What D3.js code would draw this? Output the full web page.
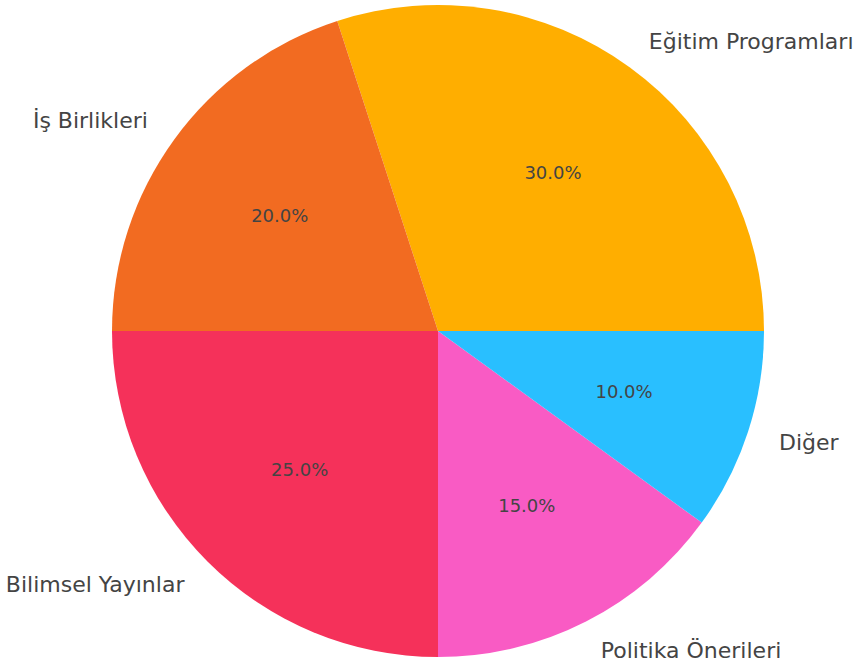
<!DOCTYPE html>
<html>
<head>
<meta charset="utf-8">
<script src="https://cdn.jsdelivr.net/npm/d3@7"></script>
<style>
  body { margin: 0; background: #fff; }
  svg { display: block; font-family: "DejaVu Sans", sans-serif; }
</style>
</head>
<body>
<div id="chart"></div>
<script>
// Slice data, in drawing order (counterclockwise from 3 o'clock)
const categories = ['Eğitim Programları', 'İş Birlikleri', 'Bilimsel Yayınlar', 'Politika Önerileri', 'Diğer'];
const values = [30, 20, 25, 15, 10];
const colors = ['#FFAE00', '#F26B21', '#F5315A', '#F95BC4', '#29BFFF'];

const width = 857, height = 665;
const cx = 438, cy = 331, radius = 326;

const svg = d3.select('#chart').append('svg')
    .attr('width', width)
    .attr('height', height);

const g = svg.append('g').attr('transform', `translate(${cx},${cy})`);

const data = categories.map((c, i) => ({ name: c, value: values[i], color: colors[i] }));
const total = d3.sum(values);

// matplotlib-style: start at 3 o'clock, go counterclockwise
const pie = d3.pie().value(d => d.value).sort(null)
    .startAngle(Math.PI / 2)
    .endAngle(Math.PI / 2 - 2 * Math.PI);

const arc = d3.arc().innerRadius(0).outerRadius(radius);
const pctArc = d3.arc().innerRadius(radius * 0.6).outerRadius(radius * 0.6);
const labelArc = d3.arc().innerRadius(radius * 1.1).outerRadius(radius * 1.1);

const arcs = pie(data);

g.selectAll('path.slice')
    .data(arcs)
    .enter().append('path')
    .attr('class', 'slice')
    .attr('d', arc)
    .attr('fill', d => d.data.color);

// percentages inside
g.selectAll('text.pct')
    .data(arcs)
    .enter().append('text')
    .attr('class', 'pct')
    .attr('transform', d => `translate(${pctArc.centroid(d)})`)
    .attr('dy', '0.35em')
    .attr('text-anchor', 'middle')
    .style('font-size', '18px')
    .attr('fill', '#444')
    .text(d => d3.format('.1f')(d.data.value / total * 100) + '%');

// category labels outside
g.selectAll('text.lbl')
    .data(arcs)
    .enter().append('text')
    .attr('class', 'lbl')
    .attr('transform', d => `translate(${labelArc.centroid(d)})`)
    .attr('dy', '0.35em')
    .attr('text-anchor', d => labelArc.centroid(d)[0] >= 0 ? 'start' : 'end')
    .style('font-size', '22px')
    .attr('fill', '#444')
    .text(d => d.data.name);
</script>
</body>
</html>
